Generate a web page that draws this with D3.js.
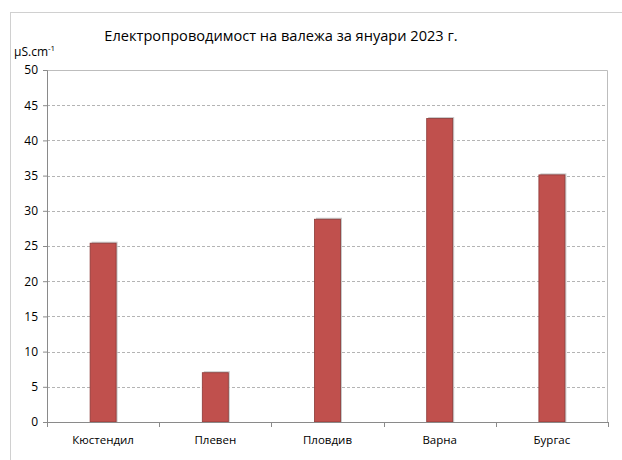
<!DOCTYPE html>
<html>
<head>
<meta charset="utf-8">
<script src="https://cdn.jsdelivr.net/npm/d3@7"></script>
<style>
  body { margin: 0; background: #fff; }
  text { font-family: "Open Sans", "Noto Sans", sans-serif; fill: #000; }
</style>
</head>
<body>
<svg id="drawing_region"></svg>
<script>
const cities = ["Кюстендил", "Плевен", "Пловдив", "Варна", "Бургас"];
const conductivity = [25.4, 7.0, 28.8, 43.1, 35.1];
const yTicks = [0, 5, 10, 15, 20, 25, 30, 35, 40, 45, 50];

const width = 622, height = 460;
const margin = {top: 70, right: 14, bottom: 38, left: 47};

const svg = d3.select('#drawing_region')
    .attr('width', width)
    .attr('height', height);

// outer chart frame (left/top edges visible)
svg.append('rect')
    .attr('x', 10.5).attr('y', 12.5)
    .attr('width', 700).attr('height', 600)
    .attr('fill', 'none')
    .attr('stroke', '#d0d0d0');

const inner_width = width - margin.left - margin.right;
const inner_height = height - margin.top - margin.bottom;

const chart = svg.append('g')
    .attr('transform', `translate(${margin.left}, ${margin.top})`);

const x = d3.scaleBand().domain(cities).range([0, inner_width]).paddingInner(0).paddingOuter(0);
const y = d3.scaleLinear().domain([0, 50]).range([inner_height, 0]);

// dashed gridlines
chart.selectAll('.grid')
    .data(yTicks.filter(t => t > 0 && t < 50))
    .join('line')
    .attr('x1', 0).attr('x2', inner_width)
    .attr('y1', d => Math.round(y(d)) + 0.5).attr('y2', d => Math.round(y(d)) + 0.5)
    .attr('stroke', '#b4b4b4')
    .attr('stroke-dasharray', '3,2');

// plot area border: top and right
chart.append('path')
    .attr('d', `M0,0.5H${inner_width - 0.5}V${inner_height}`)
    .attr('fill', 'none')
    .attr('stroke', '#bdbdbd');

// bars
const bw = 26;
chart.selectAll('.shadow')
    .data(conductivity)
    .join('rect')
    .attr('x', (d, i) => x(cities[i]) + x.bandwidth() / 2 - bw / 2 + 1.5)
    .attr('y', d => y(d) - 1.5)
    .attr('width', bw)
    .attr('height', d => y(0) - y(d) + 1.5)
    .attr('fill', '#c8c8c8');

chart.selectAll('.bar')
    .data(conductivity)
    .join('rect')
    .attr('x', (d, i) => x(cities[i]) + x.bandwidth() / 2 - bw / 2)
    .attr('y', d => y(d))
    .attr('width', bw)
    .attr('height', d => y(0) - y(d))
    .attr('fill', '#c0504d')
    .attr('stroke', '#8c3836')
    .attr('stroke-width', 0.8);

// y axis
const yAxis = chart.append('g')
    .call(d3.axisLeft(y).tickValues(yTicks).tickSize(4).tickPadding(5));
yAxis.select('.domain').attr('stroke', '#8a8a8a').attr('d', `M-4,0.5H0.5V${inner_height}`);
yAxis.selectAll('.tick line').attr('stroke', '#8a8a8a');
yAxis.selectAll('.tick text').attr('font-size', 12).attr('fill', '#000');

// x axis
const xAxis = chart.append('g')
    .attr('transform', `translate(0, ${inner_height})`)
    .call(d3.axisBottom(x).tickSize(0).tickPadding(14));
xAxis.select('.domain').attr('stroke', '#8a8a8a').attr('d', `M0,0.5H${inner_width}`);
xAxis.selectAll('.tick text').attr('font-size', 11.5).attr('fill', '#000');
xAxis.selectAll('.sep')
    .data(d3.range(cities.length + 1))
    .join('line')
    .attr('x1', i => Math.round(i * x.step()) + 0.5)
    .attr('x2', i => Math.round(i * x.step()) + 0.5)
    .attr('y1', 0).attr('y2', 5)
    .attr('stroke', '#8a8a8a');

// title
svg.append('text')
    .attr('x', 281).attr('y', 41)
    .attr('text-anchor', 'middle')
    .attr('font-size', 14.6)
    .text('Електропроводимост на валежа за януари 2023 г.');

// unit label
const unit = svg.append('text')
    .attr('x', 14).attr('y', 56)
    .attr('font-size', 12);
unit.append('tspan').text('µS.cm');
unit.append('tspan').attr('dy', -5).attr('font-size', 8).text('-1');
</script>
</body>
</html>
